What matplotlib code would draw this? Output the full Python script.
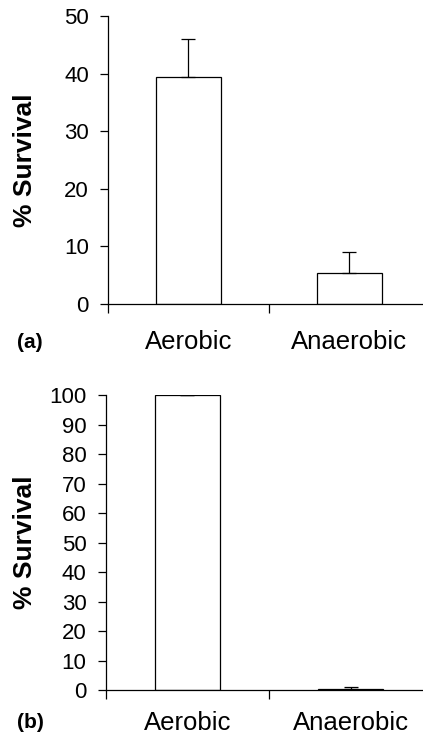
import matplotlib
matplotlib.use("Agg")
import matplotlib.pyplot as plt

plt.rcParams['font.family'] = ['Liberation Sans', 'DejaVu Sans']

categories = ["Aerobic", "Anaerobic"]

# panel (a)
surv_a = [39.4, 5.3]
err_a = [6.6, 3.8]

# panel (b)
surv_b = [100.0, 0.5]
err_b = [0.0, 0.4]

fig = plt.figure(figsize=(4.23, 7.37), dpi=100)

ax1 = fig.add_axes([0.2553, 0.5875, 0.761, 0.3908])
ax2 = fig.add_axes([0.2499, 0.0638, 0.772, 0.3998])


def draw(ax, vals, errs, ymax, step, lpad):
    x = range(len(vals))
    ax.bar(x, vals, width=0.4, color="white", edgecolor="black", linewidth=0.9, zorder=2)
    ax.errorbar(x, vals, yerr=[[0] * len(errs), errs], fmt="none", ecolor="black",
                elinewidth=0.9, capsize=5, capthick=0.9, zorder=3)
    ax.set_xlim(-0.5, 1.5)
    ax.set_ylim(0, ymax)
    ax.set_yticks(range(0, ymax + 1, step))
    ax.spines['top'].set_visible(False)
    ax.spines['right'].set_visible(False)
    ax.spines['left'].set_linewidth(0.9)
    ax.spines['bottom'].set_linewidth(0.9)
    ax.set_xticks([0, 1])
    ax.set_xticklabels(categories, fontsize=18.5)
    ax.tick_params(axis="x", which="major", length=0, pad=lpad)
    ax.set_xticks([-0.5, 0.5, 1.5], minor=True)
    ax.tick_params(axis="x", which="minor", length=6.5, width=0.9, direction="out")
    ax.tick_params(axis="y", length=5.8, width=0.9, labelsize=16, pad=8)
    ax.set_ylabel("% Survival", fontsize=19, fontweight="bold")


draw(ax1, surv_a, err_a, 50, 10, 19)
draw(ax2, surv_b, err_b, 100, 10, 15)

ax1.yaxis.set_label_coords(-0.22, 0.5)
ax2.yaxis.set_label_coords(-0.21, 0.5)

fig.text(17 / 423, 1 - 342 / 737, "(a)", fontsize=15, fontweight="bold", va="center", ha="left")
fig.text(17 / 423, 1 - 723 / 737, "(b)", fontsize=15, fontweight="bold", va="center", ha="left")

fig.savefig("out.png", dpi=100)
